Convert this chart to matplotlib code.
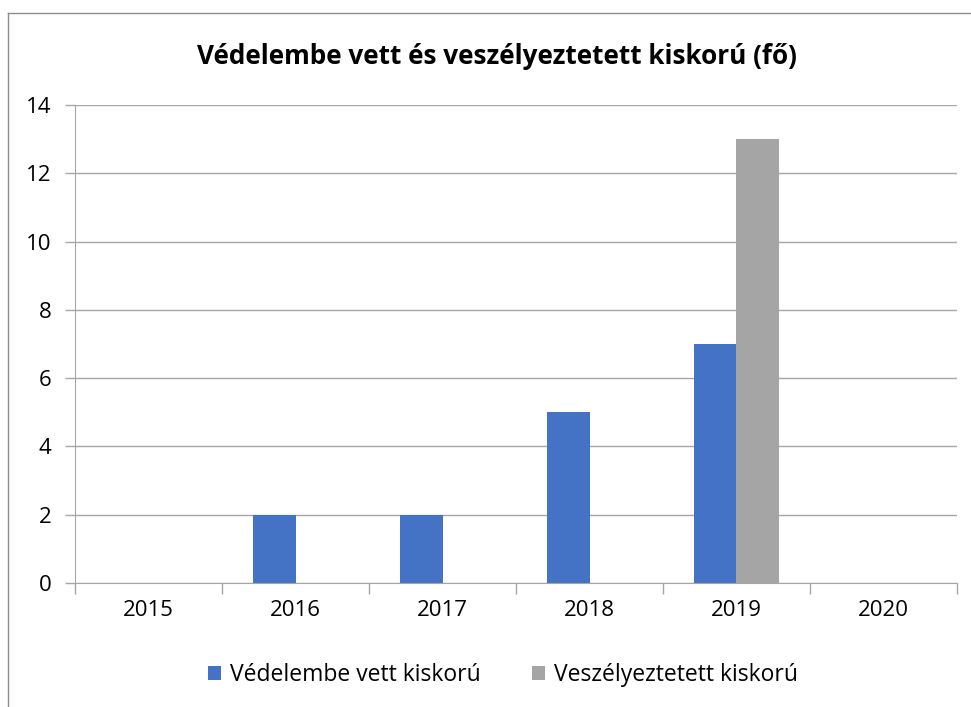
import matplotlib.pyplot as plt
import numpy as np
from matplotlib.lines import Line2D

years = ['2015', '2016', '2017', '2018', '2019', '2020']
vedelembe = [0, 2, 2, 5, 7, 0]
veszelyeztetett = [0, 0, 0, 0, 13, 0]

plt.rcParams['font.family'] = ['Open Sans', 'DejaVu Sans']

fig = plt.figure(figsize=(9.71, 7.07), dpi=100)
ax = fig.add_axes([75 / 971, 1 - 583 / 707, 882 / 971, 478 / 707])

x = np.arange(len(years))
w = 0.29
ax.bar(x - w / 2, vedelembe, w, color='#4472c4', label='Védelembe vett kiskorú', zorder=3)
ax.bar(x + w / 2, veszelyeztetett, w, color='#a5a5a5', label='Veszélyeztetett kiskorú', zorder=3)

ax.set_xlim(-0.5, len(years) - 0.5)
ax.set_ylim(0, 14)
ax.set_yticks(range(0, 15, 2))
ax.grid(axis='y', color='#a6a6a6', linewidth=1, zorder=0)

ax.set_xticks(x)
ax.set_xticklabels(years)
ax.set_xticks(np.arange(-0.5, len(years)), minor=True)
ax.tick_params(axis='x', which='major', length=0, pad=12, labelsize=16)
ax.tick_params(axis='x', which='minor', length=8, color='#a6a6a6', width=1)
ax.tick_params(axis='y', length=7, color='#a6a6a6', width=1, pad=10, labelsize=16)

for s in ['top', 'right']:
    ax.spines[s].set_visible(False)
for s in ['left', 'bottom']:
    ax.spines[s].set_color('#a6a6a6')

fig.text(497 / 971, 1 - 57 / 707, 'Védelembe vett és veszélyeztetett kiskorú (fő)',
         fontsize=18.8, fontweight='bold', ha='center', va='center')

ax.legend(loc='center', bbox_to_anchor=((503 - 75) / 882, -92 / 478), ncol=2, frameon=False,
          fontsize=16.5, handlelength=0.6, handleheight=0.6, columnspacing=2.2, handletextpad=0.4)

# outer chart border (left and top visible)
fig.add_artist(Line2D([8 / 971, 8 / 971], [0, 1 - 13 / 707], color='#8c8c8c', lw=1))
fig.add_artist(Line2D([8 / 971, 1], [1 - 13 / 707, 1 - 13 / 707], color='#8c8c8c', lw=1))

fig.savefig('out.png', dpi=100)
